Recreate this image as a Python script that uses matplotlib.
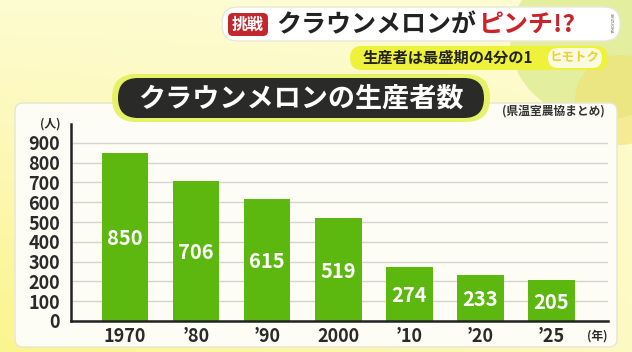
import numpy as np
import matplotlib
matplotlib.use("Agg")
import matplotlib.pyplot as plt
from matplotlib.patches import FancyBboxPatch, Ellipse

plt.rcParams['font.family'] = ['Noto Sans CJK JP', 'DejaVu Sans']

# data
years = ["1970", "\u201980", "\u201990", "2000", "\u201910", "\u201920", "\u201925"]
growers = [850, 706, 615, 519, 274, 233, 205]
y_ticks = [0, 100, 200, 300, 400, 500, 600, 700, 800, 900]

title = "クラウンメロンの生産者数"
source = "(県温室農協まとめ)"
headline_black = "クラウンメロンが"
headline_red = "ピンチ!?"
subline = "生産者は最盛期の4分の1"

W, H = 632, 352
fig = plt.figure(figsize=(W / 100, H / 100), dpi=100)

# background layer in pixel coords
bg = fig.add_axes([0, 0, 1, 1], zorder=0)
bg.set_xlim(0, W)
bg.set_ylim(H, 0)
bg.axis("off")

# soft yellow gradient
gx = np.linspace(0, 1, 200)
gy = np.linspace(0, 1, 120)
GX, GY = np.meshgrid(gx, gy)
pale = np.array([0.995, 0.985, 0.82])
yellow = np.array([0.98, 0.95, 0.45])
t = np.clip((1 - GX) * 0.7 * GY + 0.15 * GX * GY, 0, 1)[..., None]
img = pale * (1 - t) + yellow * t
bg.imshow(img, extent=[0, W, H, 0], aspect="auto", zorder=0)

# greenish shapes top right
bg.add_patch(Ellipse((600, 40), 180, 160, color="#d8eb8a", alpha=0.7, zorder=1, lw=0))
bg.add_patch(Ellipse((620, 100), 90, 90, color="#f2e070", alpha=0.6, zorder=1, lw=0))

# white chart panel
bg.add_patch(FancyBboxPatch((15, 103), 602, 244, boxstyle="round,pad=0,rounding_size=8",
                            fc="#fdfdf6", ec="#e6e6d2", lw=1, zorder=2))

# title pill with glow
bg.add_patch(FancyBboxPatch((112, 74), 378, 48, boxstyle="round,pad=0,rounding_size=24",
                            fc="#e4f25a", ec="none", alpha=0.9, zorder=3))
bg.add_patch(FancyBboxPatch((118, 78), 366, 40, boxstyle="round,pad=0,rounding_size=20",
                            fc="#2a2a28", ec="none", zorder=4))
bg.text(301, 99, title, color="white", fontsize=19.5, fontweight="bold",
        ha="center", va="center", zorder=5)
bg.text(553, 111, source, color="#333333", fontsize=8.5, fontweight="bold",
        ha="center", va="center", zorder=5)

# header pill
bg.add_patch(FancyBboxPatch((222, 7), 398, 34, boxstyle="round,pad=0,rounding_size=16",
                            fc="white", ec="#e8e8d8", lw=1, zorder=3))
bg.add_patch(FancyBboxPatch((228, 13), 40, 23, boxstyle="round,pad=0,rounding_size=5",
                            fc="#c0282d", ec="none", zorder=4))
bg.text(248, 24.5, "挑戦", color="white", fontsize=11.5, fontweight="bold",
        ha="center", va="center", zorder=5)
bg.text(276, 25, headline_black, color="#222222", fontsize=18, fontweight="bold",
        ha="left", va="center", zorder=5)
bg.text(478, 25, headline_red, color="#cc2229", fontsize=18, fontweight="bold",
        ha="left", va="center", zorder=5)
bg.text(611, 23, "SHIZUOKA", color="#555555", fontsize=3, rotation=-90,
        ha="center", va="center", zorder=5)

# sub headline pill
bg.add_patch(FancyBboxPatch((350, 46), 258, 24, boxstyle="round,pad=0,rounding_size=12",
                            fc="#eef23a", ec="none", zorder=3))
bg.text(448, 58, subline, color="#222222", fontsize=11, fontweight="bold",
        ha="center", va="center", zorder=5)
bg.add_patch(FancyBboxPatch((548, 48), 54, 20, boxstyle="round,pad=0,rounding_size=10",
                            fc="#fbfbe0", ec="none", zorder=4))
bg.text(575, 58, "ヒモトク", color="#e8d23a", fontsize=9, fontweight="bold",
        ha="center", va="center", zorder=5)

# chart axes
left, right, bottom_px, top_px = 71, 608, 321, 124
ax = fig.add_axes([left / W, (H - bottom_px) / H, (right - left) / W, (bottom_px - top_px) / H],
                  zorder=1)
ax.patch.set_alpha(0)

x = np.arange(len(years))
bars = ax.bar(x, growers, width=0.66, color="#5cb80f", zorder=3)
for xi, v in zip(x, growers):
    ax.text(xi, v / 2 - 8, str(v), color="white", fontsize=14.5, fontweight="bold",
            ha="center", va="center", zorder=4)

ax.set_xlim(-0.76, len(years) - 1 + 0.8)
ax.set_ylim(0, 995)
ax.set_yticks(y_ticks)
ax.set_yticklabels([str(t) for t in y_ticks], fontsize=13, fontweight="bold", color="#2a2a2a")
ax.set_xticks(x)
ax.set_xticklabels(years, fontsize=13, fontweight="bold", color="#2a2a2a")
ax.tick_params(length=0, axis="y", pad=8)
ax.tick_params(length=0, axis="x", pad=4)
ax.grid(axis="y", color="#d4d4d0", lw=1, zorder=1)
for s in ["top", "right"]:
    ax.spines[s].set_visible(False)
for s in ["left", "bottom"]:
    ax.spines[s].set_color("#222222")
    ax.spines[s].set_linewidth(1.8)
    ax.spines[s].set_zorder(5)

ax.text(-0.02, 1.0, "(人)", transform=ax.transAxes, fontsize=8.5, fontweight="bold",
        color="#2a2a2a", ha="right", va="center")
ax.text(1.0, -0.075, "(年)", transform=ax.transAxes, fontsize=8.5, fontweight="bold",
        color="#2a2a2a", ha="right", va="center")

fig.savefig("out.png", dpi=100)
